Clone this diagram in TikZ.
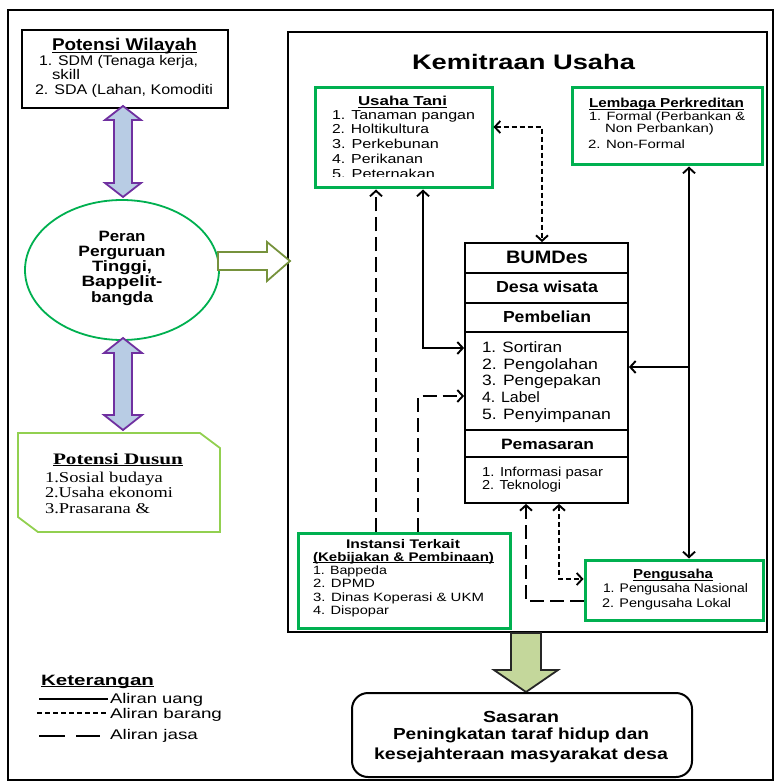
\documentclass[tikz,border=0pt]{standalone}
\usepackage{fontspec}
\setmainfont{Liberation Sans}
\newfontfamily\serifface{Liberation Serif}
\usepackage{graphicx}
\usetikzlibrary{arrows.meta,shapes.geometric}
\definecolor{gbox}{HTML}{00B050}
\definecolor{lgreen}{HTML}{92D050}
\definecolor{purp}{HTML}{7030A0}
\definecolor{pfill}{HTML}{B8CCE4}
\definecolor{olivec}{HTML}{76923C}
\definecolor{afill}{HTML}{C4D79B}
\newcommand{\fw}[2]{\resizebox{#1pt}{\height}{#2}}
\newcommand{\fs}[1]{\fontsize{#1}{#1}\selectfont}
\newcommand{\ulx}[1]{\setbox0=\hbox{#1}\makebox[0pt][l]{\rule[-1.9pt]{\wd0}{0.9pt}}\box0}
\begin{document}
\begin{tikzpicture}[x=1pt,y=-1pt,
 >={Straight Barb[length=5.5pt,width=12pt]},
 tx/.style={anchor=base west,inner sep=0pt,outer sep=0pt},
 tc/.style={anchor=base,inner sep=0pt,outer sep=0pt},
 blk/.style={draw,line width=1.8pt,fill=white,inner sep=0pt},
 gbx/.style={draw=gbox,line width=3pt,fill=white,inner sep=0pt},
 uang/.style={line width=1.9pt},
 barang/.style={line width=1.9pt,dash pattern=on 5pt off 3pt},
 jasa/.style={line width=1.9pt,dash pattern=on 14pt off 6pt},
 parrow/.style={draw=purp,line width=1.8pt,fill=pfill,line join=miter}
 ]
\useasboundingbox (0,0) rectangle (776,783);
% frames
\node[draw,line width=2.2pt,minimum width=765pt,minimum height=770pt,inner sep=0pt] (outer) at (390.5,395) {};
\node[draw,line width=2pt,fill=white,minimum width=479pt,minimum height=600pt,inner sep=0pt] (kem) at (527.5,332) {};
\node[tc] (kt) at (523.5,70) {\fs{21}\bfseries\fw{223}{Kemitraan Usaha}};

% Potensi Wilayah
\node[blk,minimum width=206pt,minimum height=78pt] (pw) at (125,69) {};
\node[tx] (pwh) at (52,51) {\fs{17}\bfseries\fw{145}{\ulx{Potensi Wilayah}}};
\node[tx] (pw1) at (39,66) {\fs{14}\fw{159}{1. SDM (Tenaga kerja,}};
\node[tx] (pw2) at (52,80) {\fs{14}\fw{28}{skill}};
\node[tx] (pw3) at (35,95) {\fs{14}\fw{178}{2. SDA (Lahan, Komoditi}};

% oval
\node[ellipse,draw=gbox,line width=1.8pt,fill=white,minimum width=194pt,minimum height=140pt,inner sep=0pt] (oval) at (122,270) {};
\node[tc] (o1) at (122,241) {\fs{15}\bfseries\fw{47}{Peran}};
\node[tc] (o2) at (122,256) {\fs{15}\bfseries\fw{87}{Perguruan}};
\node[tc] (o3) at (122,271) {\fs{15}\bfseries\fw{60}{Tinggi,}};
\node[tc] (o4) at (122,286) {\fs{15}\bfseries\fw{81}{Bappelit-}};
\node[tc] (o5) at (122,302) {\fs{15}\bfseries\fw{62}{bangda}};

% purple double arrows
\path[parrow] (123,106) -- (141,120) -- (132,120) -- (132,183) -- (141,183) -- (123,197) -- (105,183) -- (114,183) -- (114,120) -- (105,120) -- cycle;
\path[parrow] (123,338) -- (142,353) -- (132,353) -- (132,415) -- (142,415) -- (123,430) -- (104,415) -- (114,415) -- (114,353) -- (104,353) -- cycle;

% green right arrow
\path[draw=olivec,line width=1.8pt,fill=white,line join=miter] (218,252) -- (267,252) -- (267,242) -- (290,261) -- (267,281) -- (267,270) -- (218,270) -- cycle;

% Potensi Dusun
\path[draw=lgreen,line width=1.8pt,fill=white] (18,433) -- (200,433) -- (220,448) -- (220,532) -- (38,532) -- (18,517) -- cycle;
\node[tx] (pdh) at (53,464) {\serifface\fs{16}\bfseries\fw{130}{\ulx{Potensi Dusun}}};
\node[tx] (pd1) at (45,482) {\serifface\fs{15}\fw{118}{1.Sosial budaya}};
\node[tx] (pd2) at (45,497) {\serifface\fs{15}\fw{128}{2.Usaha ekonomi}};
\node[tx] (pd3) at (45,513) {\serifface\fs{15}\fw{105}{3.Prasarana \&}};

% Usaha Tani
\node[gbx,minimum width=177pt,minimum height=100pt] (ut) at (403.5,138) {};
\node[tx] (uth) at (358,106) {\fs{13}\bfseries\fw{89}{\ulx{Usaha Tani}}};
\node[tx] (ut1) at (332,120) {\fs{13}\fw{143}{1. Tanaman pangan}};
\node[tx] (ut2) at (332,134) {\fs{13}\fw{97}{2. Holtikultura}};
\node[tx] (ut3) at (332,149) {\fs{13}\fw{107}{3. Perkebunan}};
\node[tx] (ut4) at (332,164) {\fs{13}\fw{91}{4. Perikanan}};
\begin{scope}
\clip (315,88) rectangle (492,177);
\node[tx] (ut5) at (332,179) {\fs{13}\fw{103}{5. Peternakan}};
\end{scope}

% Lembaga Perkreditan
\node[gbx,minimum width=190pt,minimum height=77pt] (lp) at (667,126.5) {};
\node[tx] (lph) at (589,108) {\fs{13}\bfseries\fw{155}{\ulx{Lembaga Perkreditan}}};
\node[tx] (lp1) at (589,121) {\fs{12}\fw{156}{1. Formal (Perbankan \&}};
\node[tx] (lp2) at (605,133) {\fs{12}\fw{109}{Non Perbankan)}};
\node[tx] (lp3) at (588,149) {\fs{12}\fw{97}{2. Non-Formal}};

% BUMDes
\node[blk,minimum width=163pt,minimum height=30pt] (b1) at (546.5,258) {};
\node[blk,minimum width=163pt,minimum height=30pt] (b2) at (546.5,288) {};
\node[blk,minimum width=163pt,minimum height=29pt] (b3) at (546.5,317.5) {};
\node[blk,minimum width=163pt,minimum height=98pt] (b4) at (546.5,381) {};
\node[blk,minimum width=163pt,minimum height=27pt] (b5) at (546.5,443.5) {};
\node[blk,minimum width=163pt,minimum height=46pt] (b6) at (546.5,480) {};
\node[tc] (bt1) at (547,263) {\fs{18}\bfseries\fw{82}{BUMDes}};
\node[tc] (bt2) at (547,292) {\fs{16}\bfseries\fw{102}{Desa wisata}};
\node[tc] (bt3) at (547,322) {\fs{16}\bfseries\fw{88}{Pembelian}};
\node[tx] (bl1) at (482,352) {\fs{15}\fw{80}{1. Sortiran}};
\node[tx] (bl2) at (482,369) {\fs{15}\fw{116}{2. Pengolahan}};
\node[tx] (bl3) at (482,385) {\fs{15}\fw{119}{3. Pengepakan}};
\node[tx] (bl4) at (482,402) {\fs{15}\fw{58}{4. Label}};
\node[tx] (bl5) at (482,419) {\fs{15}\fw{129}{5. Penyimpanan}};
\node[tc] (bt5) at (547.5,449) {\fs{15}\bfseries\fw{93}{Pemasaran}};
\node[tx] (bm1) at (482,476) {\fs{13}\fw{121}{1. Informasi pasar}};
\node[tx] (bm2) at (482,489) {\fs{13}\fw{79}{2. Teknologi}};

% Instansi Terkait
\node[gbx,minimum width=212pt,minimum height=95pt] (it) at (404,580.5) {};
\node[tx] (ith) at (346,548.5) {\fs{12.5}\bfseries\fw{114}{Instansi Terkait}};
\node[tx] (ith2) at (313,561) {\fs{12.5}\bfseries\fw{181}{\ulx{(Kebijakan \& Pembinaan)}}};
\node[tx] (it1) at (313,574) {\fs{12}\fw{74}{1. Bappeda}};
\node[tx] (it2) at (313,587.5) {\fs{12}\fw{62}{2. DPMD}};
\node[tx] (it3) at (313,601) {\fs{12}\fw{171}{3. Dinas Koperasi \& UKM}};
\node[tx] (it4) at (313,614.5) {\fs{12}\fw{76}{4. Dispopar}};

% Pengusaha
\node[gbx,minimum width=178pt,minimum height=60pt] (pg) at (674,590) {};
\node[tx] (pgh) at (633,578.5) {\fs{13}\bfseries\fw{80}{\ulx{Pengusaha}}};
\node[tx] (pg1) at (603,592) {\fs{12.5}\fw{145}{1. Pengusaha Nasional}};
\node[tx] (pg2) at (602,607) {\fs{12.5}\fw{129}{2. Pengusaha Lokal}};

% connectors
\draw[barang,<->] ([yshift=11pt]ut.east) -| ([xshift=-4.5pt]b1.north);
\draw[jasa,->] ([xshift=-28pt]it.north) -- ([xshift=-28pt]it.north |- ut.south);
\draw[uang,<->] ([xshift=19.5pt]ut.south) |- ([yshift=33pt]b4.west);
\draw[jasa,->] ([xshift=14pt]it.north) |- ([yshift=-15pt]b4.west);
\draw[uang,<->] ([xshift=22pt]lp.south) -- ([xshift=15pt]pg.north);
\coordinate (br) at (689,367);
\draw[uang,->] (br) -- (br -| b4.east);
\draw[jasa,->] ([yshift=-11pt]pg.west) -| ([xshift=-20.5pt]b6.south);
\draw[barang,<->] ([xshift=12.5pt]b6.south) |- ([yshift=11pt]pg.west);

% big down arrow
\path[draw=black!85,line width=1.8pt,fill=afill,line join=miter] (511,633) -- (541,633) -- (541,670) -- (558,670) -- (526,692) -- (494,670) -- (511,670) -- cycle;

% Sasaran
\node[draw,line width=2pt,rounded corners=16pt,fill=white,minimum width=340pt,minimum height=84pt,inner sep=0pt] (sas) at (522,735) {};
\node[tc] (s1) at (521,722) {\fs{16}\bfseries\fw{76}{Sasaran}};
\node[tc] (s2) at (521,739) {\fs{16}\bfseries\fw{256}{Peningkatan taraf hidup dan}};
\node[tc] (s3) at (521,759) {\fs{16}\bfseries\fw{294}{kesejahteraan masyarakat desa}};

% legend
\node[tx] (kh) at (41,685) {\fs{15}\bfseries\fw{113}{\ulx{Keterangan}}};
\coordinate (l1a) at (39,699); \coordinate (l1b) at (108,699);
\coordinate (l2a) at (37,713); \coordinate (l2b) at (106,713);
\coordinate (l3a) at (39,736); \coordinate (l3b) at (100,736);
\draw[line width=1.8pt] (l1a) -- (l1b);
\draw[line width=1.8pt,dash pattern=on 5pt off 3pt] (l2a) -- (l2b);
\draw[line width=1.8pt,dash pattern=on 26pt off 11pt] (l3a) -- (l3b);
\node[tx] (k1) at (110,703) {\fs{14}\fw{93}{Aliran uang}};
\node[tx] (k2) at (110,718) {\fs{14}\fw{112}{Aliran barang}};
\node[tx] (k3) at (110,739) {\fs{14}\fw{88}{Aliran jasa}};
\end{tikzpicture}
\end{document}
